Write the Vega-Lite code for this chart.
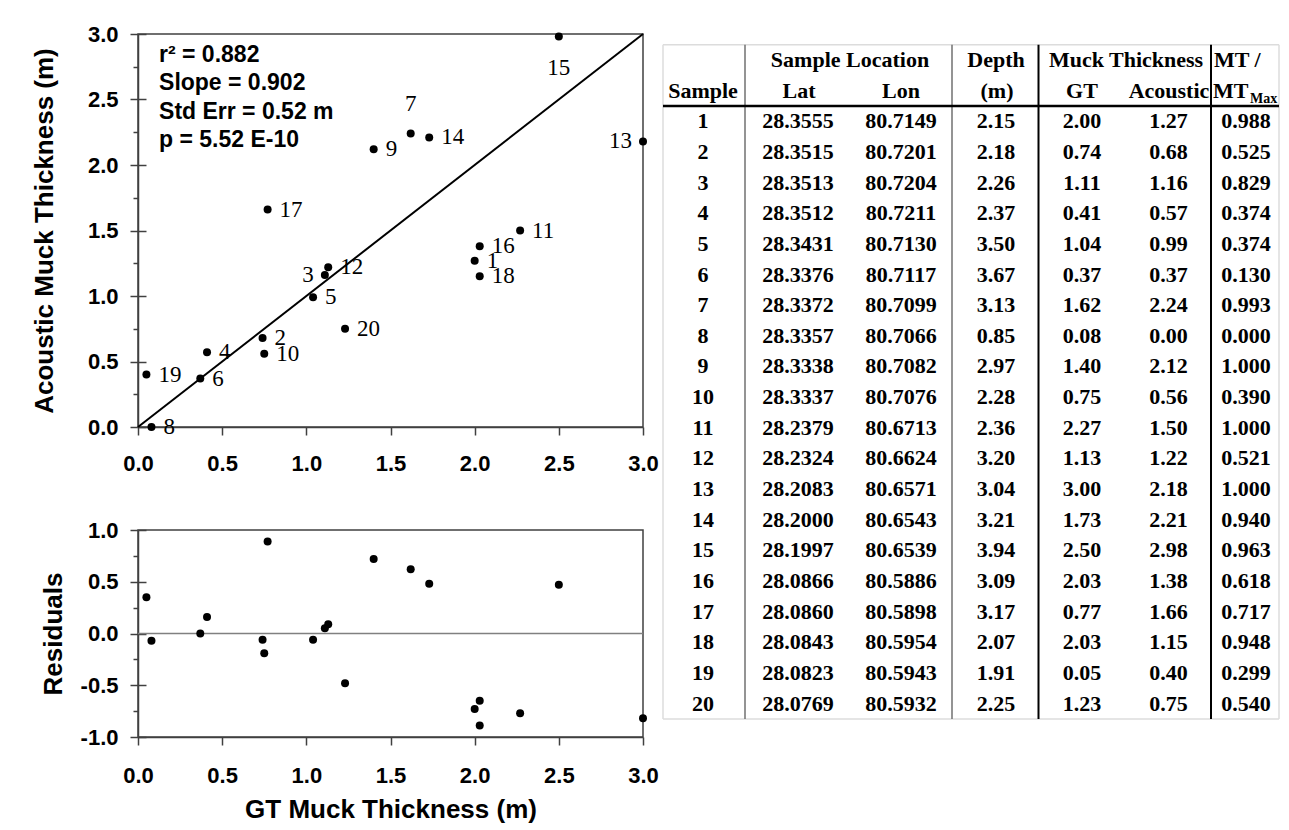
{
  "$schema": "https://vega.github.io/schema/vega-lite/v6.json",
  "background": "white",
  "padding": {"left": 30, "top": 22, "right": 5, "bottom": 5},
  "config": {
    "font": "Liberation Sans",
    "view": {"stroke": "#404040", "strokeWidth": 1.5},
    "axis": {
      "grid": false,
      "domainColor": "#404040",
      "domainWidth": 1.5,
      "tickColor": "#404040",
      "tickWidth": 1.5,
      "labelFont": "Liberation Sans",
      "labelFontSize": 22,
      "labelFontWeight": "bold",
      "labelColor": "black",
      "labelFlush": false,
      "labelOverlap": false,
      "titleFont": "Liberation Sans",
      "titleFontSize": 26,
      "titleFontWeight": "bold",
      "titleColor": "black"
    }
  },
  "datasets": {
    "samples": [
      {"Sample": 1, "Lat": 28.3555, "Lon": 80.7149, "Depth": 2.15, "GT": 2.00, "Acoustic": 1.27, "MT": 0.988, "Res": -0.73},
      {"Sample": 2, "Lat": 28.3515, "Lon": 80.7201, "Depth": 2.18, "GT": 0.74, "Acoustic": 0.68, "MT": 0.525, "Res": -0.06},
      {"Sample": 3, "Lat": 28.3513, "Lon": 80.7204, "Depth": 2.26, "GT": 1.11, "Acoustic": 1.16, "MT": 0.829, "Res": 0.05},
      {"Sample": 4, "Lat": 28.3512, "Lon": 80.7211, "Depth": 2.37, "GT": 0.41, "Acoustic": 0.57, "MT": 0.374, "Res": 0.16},
      {"Sample": 5, "Lat": 28.3431, "Lon": 80.7130, "Depth": 3.50, "GT": 1.04, "Acoustic": 0.99, "MT": 0.374, "Res": -0.06},
      {"Sample": 6, "Lat": 28.3376, "Lon": 80.7117, "Depth": 3.67, "GT": 0.37, "Acoustic": 0.37, "MT": 0.130, "Res": 0.00},
      {"Sample": 7, "Lat": 28.3372, "Lon": 80.7099, "Depth": 3.13, "GT": 1.62, "Acoustic": 2.24, "MT": 0.993, "Res": 0.62},
      {"Sample": 8, "Lat": 28.3357, "Lon": 80.7066, "Depth": 0.85, "GT": 0.08, "Acoustic": 0.00, "MT": 0.000, "Res": -0.07},
      {"Sample": 9, "Lat": 28.3338, "Lon": 80.7082, "Depth": 2.97, "GT": 1.40, "Acoustic": 2.12, "MT": 1.000, "Res": 0.72},
      {"Sample": 10, "Lat": 28.3337, "Lon": 80.7076, "Depth": 2.28, "GT": 0.75, "Acoustic": 0.56, "MT": 0.390, "Res": -0.19},
      {"Sample": 11, "Lat": 28.2379, "Lon": 80.6713, "Depth": 2.36, "GT": 2.27, "Acoustic": 1.50, "MT": 1.000, "Res": -0.77},
      {"Sample": 12, "Lat": 28.2324, "Lon": 80.6624, "Depth": 3.20, "GT": 1.13, "Acoustic": 1.22, "MT": 0.521, "Res": 0.09},
      {"Sample": 13, "Lat": 28.2083, "Lon": 80.6571, "Depth": 3.04, "GT": 3.00, "Acoustic": 2.18, "MT": 1.000, "Res": -0.82},
      {"Sample": 14, "Lat": 28.2000, "Lon": 80.6543, "Depth": 3.21, "GT": 1.73, "Acoustic": 2.21, "MT": 0.940, "Res": 0.48},
      {"Sample": 15, "Lat": 28.1997, "Lon": 80.6539, "Depth": 3.94, "GT": 2.50, "Acoustic": 2.98, "MT": 0.963, "Res": 0.47},
      {"Sample": 16, "Lat": 28.0866, "Lon": 80.5886, "Depth": 3.09, "GT": 2.03, "Acoustic": 1.38, "MT": 0.618, "Res": -0.65},
      {"Sample": 17, "Lat": 28.0860, "Lon": 80.5898, "Depth": 3.17, "GT": 0.77, "Acoustic": 1.66, "MT": 0.717, "Res": 0.89},
      {"Sample": 18, "Lat": 28.0843, "Lon": 80.5954, "Depth": 2.07, "GT": 2.03, "Acoustic": 1.15, "MT": 0.948, "Res": -0.89},
      {"Sample": 19, "Lat": 28.0823, "Lon": 80.5943, "Depth": 1.91, "GT": 0.05, "Acoustic": 0.40, "MT": 0.299, "Res": 0.35},
      {"Sample": 20, "Lat": 28.0769, "Lon": 80.5932, "Depth": 2.25, "GT": 1.23, "Acoustic": 0.75, "MT": 0.540, "Res": -0.48}
    ]
  },
  "bounds": "full",
  "spacing": 0,
  "hconcat": [
    {
      "bounds": "flush",
      "spacing": 103,
      "vconcat": [
        {
          "width": 505,
          "height": 393,
          "data": {"name": "samples"},
          "resolve": {"axis": {"y": "independent"}},
          "encoding": {
            "x": {"field": "GT", "type": "quantitative",
              "scale": {"domain": [0, 3], "nice": false, "zero": false},
              "axis": {"title": null, "values": [0, 0.5, 1, 1.5, 2, 2.5, 3], "format": ".1f", "tickSize": 8, "labelPadding": 18}},
            "y": {"field": "Acoustic", "type": "quantitative",
              "scale": {"domain": [0, 3], "nice": false, "zero": false},
              "axis": null}
          },
          "layer": [
            {
              "data": {"values": [{"GT": 0, "Acoustic": 0}, {"GT": 3, "Acoustic": 3}]},
              "mark": {"type": "line", "color": "black", "strokeWidth": 2},
              "encoding": {
                "y": {"field": "Acoustic", "type": "quantitative",
                  "axis": {"title": "Acoustic Muck Thickness (m)", "titlePadding": 30, "orient": "left",
                    "values": [0, 0.25, 0.5, 0.75, 1, 1.25, 1.5, 1.75, 2, 2.25, 2.5, 2.75, 3],
                    "labelExpr": "datum.value * 4 % 2 === 0 ? (datum.value < 0 ? '-' : '') + format(abs(datum.value), '.1f') : ''",
                    "tickSize": {"condition": {"test": "datum.value * 4 % 2 === 0", "value": 8}, "value": 5},
                    "labelPadding": 12}}
              }
            },
            {
              "mark": {"type": "circle", "size": 64, "color": "black", "opacity": 1},
              "encoding": {
                "y": {"field": "Acoustic", "type": "quantitative",
                  "axis": {"title": null, "orient": "left", "offset": -8, "values": [0, 0.5, 1, 1.5, 2, 2.5, 3],
                    "labels": false, "domain": false, "ticks": true, "tickSize": 8}}
              }
            },
            {
              "transform": [{"filter": "indexof([3, 7, 13, 15], datum.Sample) < 0"}],
              "mark": {"type": "text", "font": "Liberation Serif", "fontSize": 23, "align": "left", "baseline": "middle", "dx": 12, "color": "black"},
              "encoding": {"text": {"field": "Sample"}}
            },
            {
              "transform": [{"filter": "datum.Sample === 3 || datum.Sample === 13"}],
              "mark": {"type": "text", "font": "Liberation Serif", "fontSize": 23, "align": "right", "baseline": "middle", "dx": -11, "color": "black"},
              "encoding": {"text": {"field": "Sample"}}
            },
            {
              "transform": [{"filter": "datum.Sample === 7"}],
              "mark": {"type": "text", "font": "Liberation Serif", "fontSize": 23, "align": "center", "baseline": "middle", "dy": -30, "color": "black"},
              "encoding": {"text": {"field": "Sample"}}
            },
            {
              "transform": [{"filter": "datum.Sample === 15"}],
              "mark": {"type": "text", "font": "Liberation Serif", "fontSize": 23, "align": "center", "baseline": "middle", "dy": 31, "color": "black"},
              "encoding": {"text": {"field": "Sample"}}
            },
            {
              "transform": [{"filter": "datum.Sample === 1"}],
              "mark": {"type": "text", "align": "left", "baseline": "top", "fontSize": 23, "fontWeight": "bold", "lineHeight": 28.3, "color": "black"},
              "encoding": {
                "x": {"datum": 0.125, "type": "quantitative"},
                "y": {"datum": 2.924, "type": "quantitative", "axis": null},
                "text": {"value": ["r² = 0.882", "Slope = 0.902", "Std Err = 0.52 m", "p = 5.52 E-10"]}
              }
            }
          ]
        },
        {
          "width": 505,
          "height": 207,
          "data": {"name": "samples"},
          "resolve": {"axis": {"y": "independent"}},
          "encoding": {
            "x": {"field": "GT", "type": "quantitative",
              "scale": {"domain": [0, 3], "nice": false, "zero": false},
              "axis": {"title": "GT Muck Thickness (m)", "titlePadding": 10, "values": [0, 0.5, 1, 1.5, 2, 2.5, 3], "format": ".1f", "tickSize": 8, "labelPadding": 20}},
            "y": {"field": "Res", "type": "quantitative",
              "scale": {"domain": [-1, 1], "nice": false, "zero": false},
              "axis": null}
          },
          "layer": [
            {
              "transform": [{"filter": "datum.Sample === 1"}],
              "mark": {"type": "rule", "color": "#808080", "strokeWidth": 1.5},
              "encoding": {"x": {"datum": 0, "type": "quantitative"}, "x2": {"datum": 3},
                "y": {"datum": 0, "type": "quantitative",
                  "axis": {"title": "Residuals", "titlePadding": 14, "orient": "left",
                    "values": [-1, -0.75, -0.5, -0.25, 0, 0.25, 0.5, 0.75, 1],
                    "labelExpr": "datum.value * 4 % 2 === 0 ? (datum.value < 0 ? '-' : '') + format(abs(datum.value), '.1f') : ''",
                    "tickSize": {"condition": {"test": "datum.value * 4 % 2 === 0", "value": 8}, "value": 5},
                    "labelPadding": 12}}}
            },
            {
              "mark": {"type": "circle", "size": 64, "color": "black", "opacity": 1},
              "encoding": {
                "y": {"field": "Res", "type": "quantitative",
                  "axis": {"title": null, "orient": "left", "offset": -8, "values": [-1, -0.5, 0, 0.5, 1],
                    "labels": false, "domain": false, "ticks": true, "tickSize": 8}}
              }
            }
          ]
        }
      ]
    },
    {
      "width": 620,
      "height": 686,
      "view": {"stroke": null},
      "data": {"name": "samples"},
      "encoding": {
        "x": {"datum": 0, "type": "quantitative", "scale": {"domain": [0, 620], "nice": false, "zero": false}, "axis": null},
        "y": {"field": "Sample", "type": "quantitative", "scale": {"domain": [-1.848, 20.534], "reverse": true, "nice": false, "zero": false}, "axis": null}
      },
      "layer": [
        {"transform": [{"filter": "datum.Sample === 1"}], "mark": {"type": "rule", "color": "#dcdcdc", "strokeWidth": 1.5},
          "encoding": {"x": {"datum": 3}, "x2": {"datum": 619}, "y": {"datum": -1.5}}},
        {"transform": [{"filter": "datum.Sample === 1"}], "mark": {"type": "rule", "color": "#dcdcdc", "strokeWidth": 1.5},
          "encoding": {"x": {"datum": 3}, "x2": {"datum": 619}, "y": {"datum": 20.5}}},
        {"transform": [{"filter": "datum.Sample === 1"}], "mark": {"type": "rule", "color": "#dcdcdc", "strokeWidth": 1.5},
          "encoding": {"x": {"datum": 3}, "y": {"datum": -1.5}, "y2": {"datum": 20.5}}},
        {"transform": [{"filter": "datum.Sample === 1"}], "mark": {"type": "rule", "color": "#dcdcdc", "strokeWidth": 1.5},
          "encoding": {"x": {"datum": 619}, "y": {"datum": -1.5}, "y2": {"datum": 20.5}}},
        {"transform": [{"filter": "datum.Sample === 1"}], "mark": {"type": "rule", "color": "#707070", "strokeWidth": 1.5},
          "encoding": {"x": {"datum": 85}, "y": {"datum": -1.5}, "y2": {"datum": 20.5}}},
        {"transform": [{"filter": "datum.Sample === 1"}], "mark": {"type": "rule", "color": "#707070", "strokeWidth": 1.5},
          "encoding": {"x": {"datum": 292}, "y": {"datum": -1.5}, "y2": {"datum": 20.5}}},
        {"transform": [{"filter": "datum.Sample === 1"}], "mark": {"type": "rule", "color": "black", "strokeWidth": 2},
          "encoding": {"x": {"datum": 378.5}, "y": {"datum": -1.5}, "y2": {"datum": 20.5}}},
        {"transform": [{"filter": "datum.Sample === 1"}], "mark": {"type": "rule", "color": "black", "strokeWidth": 2},
          "encoding": {"x": {"datum": 551}, "y": {"datum": -1.5}, "y2": {"datum": 20.5}}},
        {"transform": [{"filter": "datum.Sample === 1"}], "mark": {"type": "rule", "color": "black", "strokeWidth": 2.5},
          "encoding": {"x": {"datum": 3}, "x2": {"datum": 619}, "y": {"datum": 0.5}}},

        {"mark": {"type": "text", "font": "Liberation Serif", "fontWeight": "bold", "fontSize": 22, "color": "black"},
          "encoding": {"x": {"datum": 43}, "text": {"field": "Sample"}}},
        {"mark": {"type": "text", "font": "Liberation Serif", "fontWeight": "bold", "fontSize": 22, "color": "black"},
          "encoding": {"x": {"datum": 138}, "text": {"field": "Lat", "format": ".4f"}}},
        {"mark": {"type": "text", "font": "Liberation Serif", "fontWeight": "bold", "fontSize": 22, "color": "black"},
          "encoding": {"x": {"datum": 241}, "text": {"field": "Lon", "format": ".4f"}}},
        {"mark": {"type": "text", "font": "Liberation Serif", "fontWeight": "bold", "fontSize": 22, "color": "black"},
          "encoding": {"x": {"datum": 336}, "text": {"field": "Depth", "format": ".2f"}}},
        {"mark": {"type": "text", "font": "Liberation Serif", "fontWeight": "bold", "fontSize": 22, "color": "black"},
          "encoding": {"x": {"datum": 422}, "text": {"field": "GT", "format": ".2f"}}},
        {"mark": {"type": "text", "font": "Liberation Serif", "fontWeight": "bold", "fontSize": 22, "color": "black"},
          "encoding": {"x": {"datum": 508.5}, "text": {"field": "Acoustic", "format": ".2f"}}},
        {"mark": {"type": "text", "font": "Liberation Serif", "fontWeight": "bold", "fontSize": 22, "color": "black"},
          "encoding": {"x": {"datum": 586}, "text": {"field": "MT", "format": ".3f"}}},

        {"transform": [{"filter": "datum.Sample === 1"}], "mark": {"type": "text", "font": "Liberation Serif", "fontWeight": "bold", "fontSize": 22, "color": "black", "text": "Sample Location"},
          "encoding": {"x": {"datum": 190}, "y": {"datum": -1}}},
        {"transform": [{"filter": "datum.Sample === 1"}], "mark": {"type": "text", "font": "Liberation Serif", "fontWeight": "bold", "fontSize": 22, "color": "black", "text": "Depth"},
          "encoding": {"x": {"datum": 336}, "y": {"datum": -1}}},
        {"transform": [{"filter": "datum.Sample === 1"}], "mark": {"type": "text", "font": "Liberation Serif", "fontWeight": "bold", "fontSize": 22, "color": "black", "text": "Muck Thickness"},
          "encoding": {"x": {"datum": 466}, "y": {"datum": -1}}},
        {"transform": [{"filter": "datum.Sample === 1"}], "mark": {"type": "text", "font": "Liberation Serif", "fontWeight": "bold", "fontSize": 22, "color": "black", "align": "left", "text": "MT /"},
          "encoding": {"x": {"datum": 554}, "y": {"datum": -1}}},
        {"transform": [{"filter": "datum.Sample === 1"}], "mark": {"type": "text", "font": "Liberation Serif", "fontWeight": "bold", "fontSize": 22, "color": "black", "text": "Sample"},
          "encoding": {"x": {"datum": 43}, "y": {"datum": 0}}},
        {"transform": [{"filter": "datum.Sample === 1"}], "mark": {"type": "text", "font": "Liberation Serif", "fontWeight": "bold", "fontSize": 22, "color": "black", "text": "Lat"},
          "encoding": {"x": {"datum": 139}, "y": {"datum": 0}}},
        {"transform": [{"filter": "datum.Sample === 1"}], "mark": {"type": "text", "font": "Liberation Serif", "fontWeight": "bold", "fontSize": 22, "color": "black", "text": "Lon"},
          "encoding": {"x": {"datum": 241}, "y": {"datum": 0}}},
        {"transform": [{"filter": "datum.Sample === 1"}], "mark": {"type": "text", "font": "Liberation Serif", "fontWeight": "bold", "fontSize": 22, "color": "black", "text": "(m)"},
          "encoding": {"x": {"datum": 337}, "y": {"datum": 0}}},
        {"transform": [{"filter": "datum.Sample === 1"}], "mark": {"type": "text", "font": "Liberation Serif", "fontWeight": "bold", "fontSize": 22, "color": "black", "text": "GT"},
          "encoding": {"x": {"datum": 422}, "y": {"datum": 0}}},
        {"transform": [{"filter": "datum.Sample === 1"}], "mark": {"type": "text", "font": "Liberation Serif", "fontWeight": "bold", "fontSize": 22, "color": "black", "text": "Acoustic"},
          "encoding": {"x": {"datum": 509}, "y": {"datum": 0}}},
        {"transform": [{"filter": "datum.Sample === 1"}], "mark": {"type": "text", "font": "Liberation Serif", "fontWeight": "bold", "fontSize": 22, "color": "black", "align": "left", "text": "MT"},
          "encoding": {"x": {"datum": 553}, "y": {"datum": 0}}},
        {"transform": [{"filter": "datum.Sample === 1"}], "mark": {"type": "text", "font": "Liberation Serif", "fontWeight": "bold", "fontSize": 14, "color": "black", "align": "left", "dy": 8, "text": "Max"},
          "encoding": {"x": {"datum": 590}, "y": {"datum": 0}}}
      ]
    }
  ]
}
